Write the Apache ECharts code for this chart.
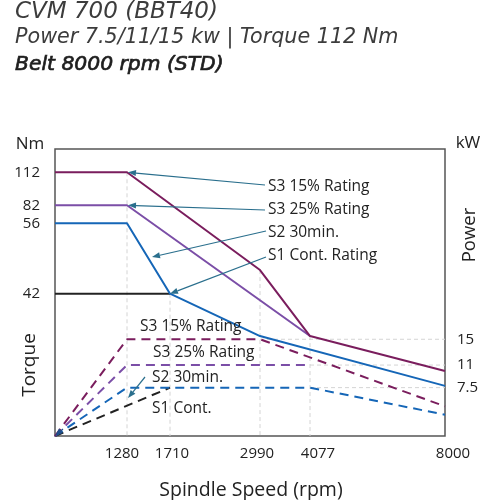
<!DOCTYPE html>
<html><head><meta charset="utf-8">
<script src="https://cdn.jsdelivr.net/npm/echarts@6/dist/echarts.min.js"></script>
<style>html,body{margin:0;padding:0;background:#fff}#c{width:500px;height:500px}</style>
</head><body><div id="c"></div>
<script>
// ---- data (rpm, Nm, kW) ----
const rpmTicks = [1280, 1710, 2990, 4077, 8000];
const torqueTicks = [112, 82, 56, 42];
const powerTicks = [15, 11, 7.5];

const s3_15_rpm = [0, 1280, 2990, 4077, 8000];
const s3_15_Nm  = [112, 112, 46.7, 29.5, 19.2];
const s3_25_rpm = [0, 1280, 4077];
const s3_25_Nm  = [82, 82, 29.5];
const s2_rpm    = [0, 1280, 1710, 2990, 8000];
const s2_Nm     = [56, 56, 42, 29.5, 14.8];
const s1_rpm    = [0, 1710];
const s1_Nm     = [42, 42];

const p3_15_rpm = [0, 1280, 2990, 8000];
const p3_15_kW  = [0, 15, 15, 4.6];
const p3_25_rpm = [0, 1280, 4077];
const p3_25_kW  = [0, 11, 11];
const p2_rpm    = [0, 1280, 4077, 8000];
const p2_kW     = [0, 7.5, 7.5, 3.3];
const p1_rpm    = [0, 1710];
const p1_kW     = [0, 7.5];

// ---- schematic (non-linear) axis layout ----
const xAnchorRpm = [0, 1280, 1710, 2990, 4077, 8000];
const xAnchorPos = [0, 72, 115, 205, 255, 390];
const tAnchorNm  = [0, 42, 56, 82, 112];
const tAnchorPos = [0, 142.3, 212.7, 230.7, 263.7];

function interp(v, xs, ys) {
  for (let i = 1; i < xs.length; i++) {
    if (v <= xs[i]) return ys[i-1] + (v - xs[i-1]) / (xs[i] - xs[i-1]) * (ys[i] - ys[i-1]);
  }
  const n = xs.length;
  return ys[n-2] + (v - xs[n-2]) / (xs[n-1] - xs[n-2]) * (ys[n-1] - ys[n-2]);
}
const wx = r => interp(r, xAnchorRpm, xAnchorPos);
const wt = t => interp(t, tAnchorNm, tAnchorPos);
const pairsT = (xs, ys) => xs.map((r, i) => [wx(r), wt(ys[i])]);
const pairsP = (xs, ys) => xs.map((r, i) => [wx(r), ys[i]]);

const C15 = '#7a1d5d', C25 = '#7b4ea7', C2 = '#1566b7', C1 = '#222222', GR = '#d4d4d4', AR = '#2a6f8d';
const FONT = '"Open Sans", sans-serif';
const TFONT = '"DejaVu Sans", sans-serif';

function solid(name, data, color) {
  return {name, type: 'line', xAxisIndex: 0, yAxisIndex: 0, data, symbol: 'none', silent: true,
    lineStyle: {color, width: 2}, z: 5};
}
function dashed(name, data, color) {
  return {name, type: 'line', xAxisIndex: 0, yAxisIndex: 1, data, symbol: 'none', silent: true,
    lineStyle: {color, width: 2, type: [9, 6]}, z: 5};
}
function guideT(data) {
  return {type: 'line', yAxisIndex: 0, data, symbol: 'none', silent: true,
    lineStyle: {color: GR, width: 1, type: [4, 3]}, z: 2};
}
function guideP(data) {
  return {type: 'line', yAxisIndex: 1, data, symbol: 'none', silent: true,
    lineStyle: {color: GR, width: 1, type: [4, 3]}, z: 2};
}

const xShift = {1280: -5, 1710: 2, 2990: -3, 4077: 8, 8000: 8};
const rich = {};
rpmTicks.forEach(r => {
  const d = xShift[r];
  rich['r' + r] = {fontFamily: FONT, fontSize: 15, color: '#222',
    padding: d >= 0 ? [0, 0, 0, 2 * d] : [0, -2 * d, 0, 0]};
});

const chart = echarts.init(document.getElementById('c'), null, {renderer: 'canvas'});
const option = {
  animation: false,
  backgroundColor: '#fff',
  grid: {left: 55, right: 55, top: 149, bottom: 64, show: true, borderColor: '#555', borderWidth: 1.5},
  xAxis: {
    type: 'value', min: 0, max: 390,
    axisLine: {show: false}, axisTick: {show: false}, splitLine: {show: false},
    axisLabel: {
      customValues: rpmTicks.map(wx), margin: 10,
      formatter: v => { const r = rpmTicks.find(t => Math.abs(wx(t) - v) < 0.01); return r == null ? '' : '{r' + r + '|' + r + '}'; },
      rich
    }
  },
  yAxis: [
    {type: 'value', min: 0, max: 287, position: 'left',
      axisLine: {show: false}, axisTick: {show: false}, splitLine: {show: false},
      axisLabel: {customValues: torqueTicks.map(wt), margin: 15, fontFamily: FONT, fontSize: 15, color: '#222',
        formatter: v => { const t = torqueTicks.find(t => Math.abs(wt(t) - v) < 0.01); return t == null ? '' : String(t); }}
    },
    {type: 'value', min: 0, max: 44.5, position: 'right',
      axisLine: {show: false}, axisTick: {show: false}, splitLine: {show: false},
      axisLabel: {customValues: powerTicks, margin: 12, fontFamily: FONT, fontSize: 15, color: '#222',
        formatter: v => String(v)}
    }
  ],
  series: [
    guideT([[wx(1280), wt(112)], [wx(1280), 0]]),
    guideT([[wx(1710), wt(42)], [wx(1710), 0]]),
    guideT([[wx(2990), wt(46.7)], [wx(2990), 0]]),
    guideT([[wx(4077), wt(29.5)], [wx(4077), 0]]),
    guideP([[wx(2990), 15], [wx(8000), 15]]),
    guideP([[wx(4077), 11], [wx(8000), 11]]),
    guideP([[wx(4077), 7.5], [wx(8000), 7.5]]),
    solid('S1 Cont. Rating', pairsT(s1_rpm, s1_Nm), C1),
    solid('S2 30min.', pairsT(s2_rpm, s2_Nm), C2),
    solid('S3 25% Rating', pairsT(s3_25_rpm, s3_25_Nm), C25),
    solid('S3 15% Rating', pairsT(s3_15_rpm, s3_15_Nm), C15),
    dashed('S1 Cont.', pairsP(p1_rpm, p1_kW), C1),
    dashed('S2 30min. (kW)', pairsP(p2_rpm, p2_kW), C2),
    dashed('S3 25% Rating (kW)', pairsP(p3_25_rpm, p3_25_kW), C25),
    dashed('S3 15% Rating (kW)', pairsP(p3_15_rpm, p3_15_kW), C15)
  ]
};
chart.setOption(option);

// ---- annotations ----
function arrow(x1, y1, x2, y2, color) {
  const ang = Math.atan2(y2 - y1, x2 - x1), L = 8, W = 3;
  const bx = x2 - L * Math.cos(ang), by = y2 - L * Math.sin(ang);
  const px = -Math.sin(ang) * W, py = Math.cos(ang) * W;
  return [
    {type: 'line', silent: true, z: 20, shape: {x1, y1, x2: bx, y2: by}, style: {stroke: color, lineWidth: 1.2}},
    {type: 'polygon', silent: true, z: 20, shape: {points: [[x2, y2], [bx + px, by + py], [bx - px, by - py]]}, style: {fill: color}}
  ];
}
function txt(text, x, y, opts) {
  return Object.assign({type: 'text', silent: true, z: 30, x, y,
    style: Object.assign({text, fill: '#222', font: '15.5px ' + FONT, textAlign: 'left', textVerticalAlign: 'middle'}, opts || {})});
}
const P = (r, t) => chart.convertToPixel({xAxisIndex: 0, yAxisIndex: 0}, [wx(r), wt(t)]);
const h1 = P(1280, 112), h2 = P(1280, 82), h4 = P(1710, 42);

const g = [];
g.push(txt('CVM 700 (BBT40)', 15, 12, {font: 'oblique 23px ' + TFONT, fill: '#3c3c3c'}));
g.push(txt('Power 7.5/11/15 kw | Torque 112 Nm', 15, 37.5, {font: 'oblique 20.7px ' + TFONT, fill: '#3c3c3c'}));
g.push(txt('Belt 8000 rpm (STD)', 15, 64.5, {font: 'oblique 20.3px ' + TFONT, fill: '#1e1e1e', stroke: '#1e1e1e', lineWidth: 0.7}));
g.push(txt('Nm', 30, 144, {font: '17px ' + FONT, textAlign: 'center'}));
g.push(txt('kW', 468, 143, {font: '17px ' + FONT, textAlign: 'center'}));
g.push(Object.assign(txt('Torque', 0, 0, {font: '19px ' + FONT, textAlign: 'center'}), {x: 30, y: 365, rotation: Math.PI / 2}));
g.push(Object.assign(txt('Power', 0, 0, {font: '18.5px ' + FONT, textAlign: 'center'}), {x: 470, y: 235, rotation: Math.PI / 2}));
g.push(txt('Spindle Speed (rpm)', 251, 490, {font: '500 19.5px ' + FONT, textAlign: 'center'}));

g.push(txt('S3 15% Rating', 268, 187));
g.push(txt('S3 25% Rating', 268, 210));
g.push(txt('S2 30min.', 268, 233));
g.push(txt('S1 Cont. Rating', 268, 256));
g.push(...arrow(265, 185, h1[0] + 1, h1[1], AR));
g.push(...arrow(265, 210, h2[0] + 1, h2[1], AR));
g.push(...arrow(266, 231, 152, 257, AR));
g.push(...arrow(266, 257, h4[0], h4[1], AR));

g.push(txt('S3 15% Rating', 140, 327));
g.push(txt('S3 25% Rating', 153, 353));
g.push(txt('S2 30min.', 152, 378));
g.push(txt('S1 Cont.', 152, 409));
g.push(...arrow(145, 377, 128, 398, AR));
g.push(...arrow(63, 429, 55, 436, '#1f4f8a'));

chart.setOption({graphic: g});
</script></body></html>
